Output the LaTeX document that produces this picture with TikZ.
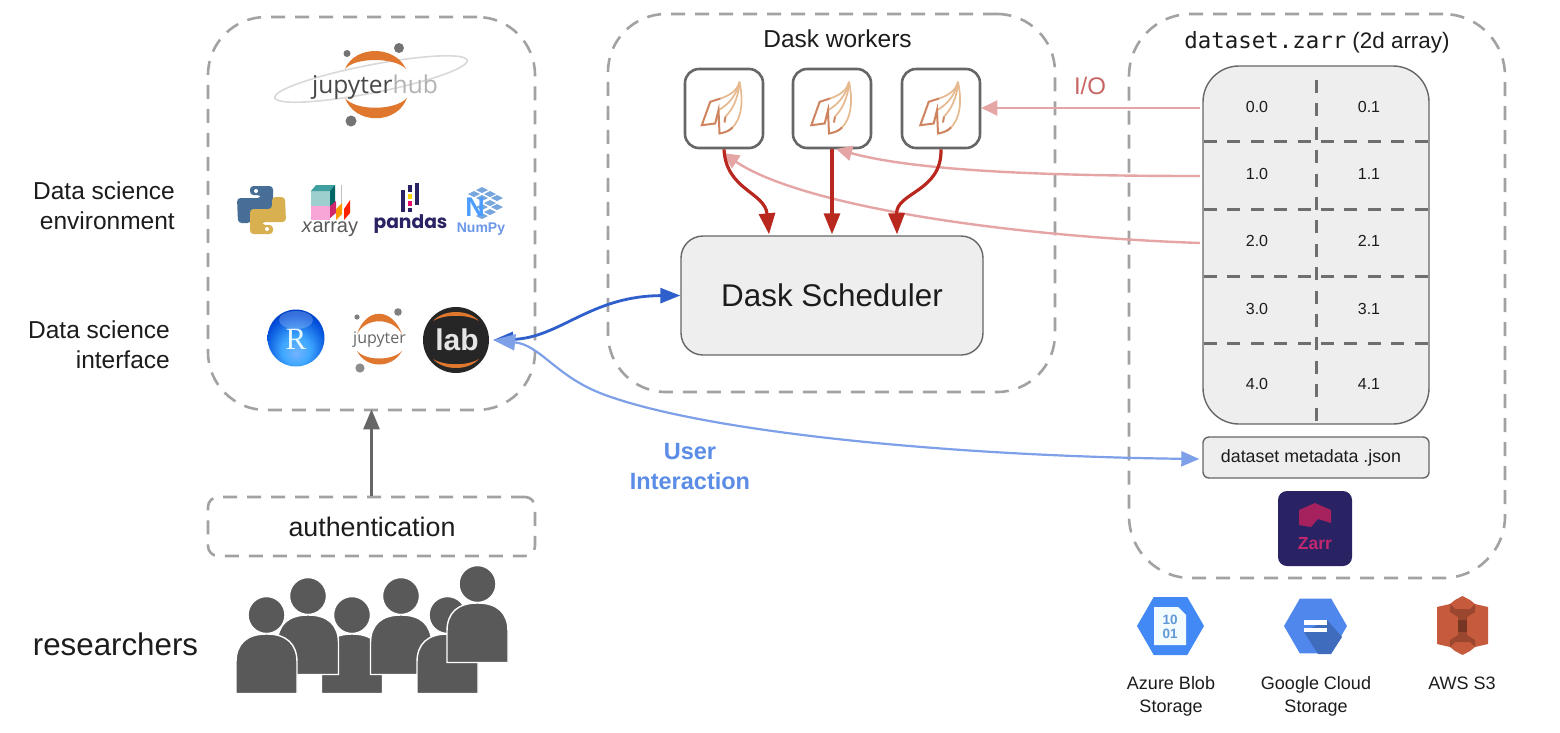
\documentclass[tikz,border=0pt]{standalone}
\usepackage{fontspec}
\setmainfont{Liberation Sans}
\setmonofont{DejaVu Sans Mono}
\newfontfamily\popfont{Poppins}
\newfontfamily\jupfont{Open Sans}
\newfontfamily\serifR{Liberation Serif}
\usetikzlibrary{arrows.meta,shapes.geometric}
\newcommand{\fsz}[1]{\fontsize{#1}{#1}\selectfont}
\definecolor{dashgrey}{HTML}{A2A2A2}
\definecolor{boxfill}{HTML}{EEEEEE}
\definecolor{boxline}{HTML}{666666}
\definecolor{griddash}{HTML}{6E6E6E}
\definecolor{pinkarrow}{HTML}{E6A5A5}
\definecolor{redarrow}{HTML}{B8281E}
\definecolor{darkblue}{HTML}{2F5FCB}
\definecolor{lightblue}{HTML}{7DA0E8}
\definecolor{userblue}{HTML}{5B8CE6}
\definecolor{iored}{HTML}{C96464}
\definecolor{peoplegrey}{HTML}{595959}
\definecolor{juporange}{HTML}{E0772E}
\definecolor{zarrnavy}{HTML}{2A2363}
\definecolor{zarrpink}{HTML}{C2286F}
\definecolor{azureblue}{HTML}{4389F5}
\definecolor{gblue}{HTML}{4F87EC}
\definecolor{awsred}{HTML}{C65A3C}
\definecolor{textdark}{HTML}{1C1C1C}
\definecolor{pyblue}{HTML}{466E96}
\definecolor{pyyellow}{HTML}{D8B050}
\definecolor{leafdark}{HTML}{CF8460}
\definecolor{leaflight}{HTML}{E6B98F}
\pgfdeclareradialshading{rball}{\pgfpoint{0bp}{-14bp}}{
  color(0bp)=(cyan!45!blue!55!white); color(12bp)=(cyan!55!blue!75!white);
  color(28bp)=(blue!65!cyan!85!black); color(36bp)=(blue!70!cyan!70!black); color(60bp)=(blue!70!cyan!60!black)}
\tikzset{
  dashbox/.style={draw=dashgrey,line width=2.6pt,dash pattern=on 14pt off 10pt,rounded corners=58pt,inner sep=0pt},
  workerbox/.style={draw=boxline,line width=2.6pt,rounded corners=14pt,minimum width=78pt,minimum height=79pt,inner sep=0pt},
  fillbox/.style={draw=boxline,fill=boxfill,line width=1.4pt,inner sep=0pt},
  celldash/.style={draw=griddash,line width=3pt,dash pattern=on 13pt off 10.4pt},
  label/.style={inner sep=0pt,text=textdark},
  cell/.style={inner sep=0pt,text=textdark,font=\fsz{16}},
  pinkline/.style={draw=pinkarrow,line width=2.4pt,-{Triangle[length=16pt,width=15pt,fill=pinkarrow]}},
  redline/.style={draw=redarrow,line width=3.2pt,-{Triangle[length=21pt,width=16pt,fill=redarrow]}},
  leafA/.style={draw=leafdark,line width=2pt,line join=miter},
  leafB/.style={draw=leaflight,line width=1.7pt},
}
\newcommand{\persona}[2]{%
  \fill[peoplegrey,draw=white,line width=1.4pt] (#1,#2) circle[radius=18.5];
  \fill[peoplegrey,draw=white,line width=1.4pt] (#1-30.5,#2+78.5) -- (#1-30.5,#2+47)
    .. controls (#1-30.5,#2+29) and (#1-20,#2+19) .. (#1,#2+19)
    .. controls (#1+20,#2+19) and (#1+30.5,#2+29) .. (#1+30.5,#2+47)
    -- (#1+30.5,#2+78.5) -- cycle;}
\newcommand{\daskleaf}[1]{%
  \begin{scope}[shift={(#1)}]
    \draw[leafB] (-3,-9) .. controls (6,-12) and (14,-17) .. (16,-25.7);
    \draw[leafB] (-5,2.7) .. controls (5,-3) and (13,-12) .. (16,-25.7);
    \draw[leafB] (2,9) .. controls (8,3) and (15,-8) .. (16,-25.7);
    \draw[leafB] (4,24) .. controls (14,18) and (22,3) .. (16,-25.7);
    \draw[leafA] (-3,-9) -- (-13.3,-5.7) -- (-21.7,17.7) -- (-8.3,16) -- (-5,2.7) -- (-4,26)
      .. controls (2,25) and (6,23) .. (9,20);
    \draw[leafA] (2,9) -- (1,15);
  \end{scope}}
\begin{document}
\begin{tikzpicture}[x=1pt,y=-1pt]
\useasboundingbox (0,0) rectangle (1560,732);
\fill[white] (0,0) rectangle (1560,732);

% containers
\node[dashbox,minimum width=327pt,minimum height=393pt] (envbox) at (371.5,213.5) {};
\node[dashbox,minimum width=447pt,minimum height=378pt] (daskbox) at (831.5,203) {};
\node[dashbox,minimum width=376pt,minimum height=564pt,rounded corners=62pt] (databox) at (1317,296) {};
\node[dashbox,minimum width=327pt,minimum height=59pt,rounded corners=10pt] (authbox) at (371.5,526.5) {};
\node[label,font=\fsz{26.8}] (authtext) at (372,527) {authentication};

% side labels
\node[label,font=\fontsize{24.5}{30}\selectfont,align=right,anchor=east] (envlabel) at (175,206) {Data science\\environment};
\node[label,font=\fontsize{24.5}{30}\selectfont,align=right,anchor=east] (ifacelabel) at (170,345) {Data science\\interface};
\node[label,font=\fsz{31.3}] (reslabel) at (115.5,644) {researchers};

% jupyterhub logo
\draw[black!15,line width=1.6pt] (371,79) circle[x radius=98,y radius=14,rotate=11];
\fill[juporange] (345,69) .. controls (355,45) and (395,45) .. (406,69) .. controls (395,57) and (355,57) .. cycle;
\fill[juporange] (345,98) .. controls (355,125) and (397,125) .. (407,98) .. controls (395,111) and (355,111) .. cycle;
\fill[black!55] (399,48) circle[radius=5];
\fill[black!55] (347,53.5) circle[radius=3.5];
\fill[black!55] (351,121) circle[radius=5.5];
\node[inner sep=0pt,font=\jupfont\fsz{24.5},anchor=base] (jhub) at (375,93) {\textcolor{black!72}{jupyter}\textcolor{black!30}{hub}};

% python logo
\newcommand{\pysnake}[1]{%
  \fill[#1,rounded corners=3.5pt] (250,186) -- (273,186) -- (273,211) -- (251,211) -- (251,223) -- (238,223) -- (237,198) -- (261,198) -- (261,195) -- (250,195) -- cycle;}
\pysnake{pyblue}
\fill[white] (256,191) circle[radius=2];
\begin{scope}[rotate around={180:(261.5,210)}]
\pysnake{pyyellow}
\fill[white] (256,191) circle[radius=2];
\end{scope}

% xarray logo
\fill[teal!38!white] (311,191) rectangle (330,206);
\fill[teal!75!white] (311,191) -- (316,185) -- (335,185) -- (330,191) -- cycle;
\fill[teal!80!black] (330,191) -- (335,185) -- (335,212) -- (330,218) -- cycle;
\fill[magenta!35!white] (311,206) rectangle (330,220);
\draw[black!25,line width=.8pt] (341,185) -- (341,205);
\fill[magenta!70!red!85!black] (330,218) -- (330,206) -- (336,201) -- (336,213) -- cycle;
\fill[orange!80!yellow] (336,220) -- (336,209) -- (342,203) -- (342,214) -- cycle;
\fill[red!75!orange] (344,220) -- (344,209) -- (350,200) -- (350,213) -- cycle;
\node[inner sep=0pt,font=\fsz{20},text=black!65] (xarr) at (330,229) {\textit{x}array};

% pandas logo
\fill[zarrnavy] (400.5,190) rectangle (405,212);
\fill[zarrnavy] (414.5,183) rectangle (419,205);
\fill[zarrnavy] (407.5,185) rectangle (412,192);
\fill[yellow!70!orange] (407.5,194) rectangle (412,199);
\fill[magenta!70!red] (407.5,201) rectangle (412,206);
\fill[zarrnavy] (407.5,207.5) rectangle (412,212);
\node[inner sep=0pt,font=\popfont\bfseries\fsz{18.7},text=zarrnavy] (pandas) at (410.5,224) {pandas};

% numpy logo
\foreach \cx/\cy in {482/190,474/194,490/194,482/198,490/203,482/207,490/212,482/216,497/198,497/207}{
  \fill[cyan!55!blue!55!white] (\cx,\cy-3) -- (\cx+6,\cy) -- (\cx,\cy+3) -- (\cx-6,\cy) -- cycle;}
\node[inner sep=0pt,font=\bfseries\fsz{27},text=blue!55!cyan!70!white] (numpyn) at (475,207) {N};
\node[inner sep=0pt,font=\bfseries\fsz{14},text=userblue!90!white] (numpy) at (481,229) {NumPy};

% R logo
\node[circle,shading=rball,minimum size=57pt,inner sep=0pt] (rlogo) at (296,338) {};
\fill[white,opacity=.22] (296,320) circle[x radius=17,y radius=9];
\node[inner sep=0pt,text=white!90!cyan,font=\serifR\fsz{31}] (rtext) at (296,339) {R};

% jupyter logo
\fill[juporange] (357,334) .. controls (366,307) and (392,307) .. (402,334) .. controls (392,317) and (366,317) .. cycle;
\fill[juporange] (357,351) .. controls (366,369) and (392,369) .. (402,351) .. controls (392,361) and (366,361) .. cycle;
\fill[black!50] (398,312) circle[radius=3.8];
\fill[black!50] (357,317) circle[radius=2.6];
\fill[black!45] (360,368) circle[radius=4.6];
\node[inner sep=0pt,font=\jupfont\fsz{16},text=black!60] (jup) at (379.5,340) {jupyter};

% lab logo
\node[circle,fill=black!85,minimum size=66pt,inner sep=0pt] (lab) at (456,340) {};
\fill[juporange] (433,321) .. controls (444,309) and (468,309) .. (479,321) .. controls (468,314) and (444,314) .. cycle;
\fill[juporange] (433,359) .. controls (444,371) and (468,371) .. (479,359) .. controls (468,366) and (444,366) .. cycle;
\node[inner sep=0pt,font=\bfseries\fsz{30},text=white!90!black] (labtext) at (457,340) {lab};

% people
\persona{352}{615}
\persona{308}{596}
\persona{401}{596}
\persona{266.5}{615}
\persona{447.5}{615}
\persona{477.5}{584}

% dask workers
\node[label,font=\fsz{24.5}] (dasktitle) at (837.5,39) {Dask workers};
\node[workerbox] (w1) at (724,108.5) {};
\node[workerbox] (w2) at (832,108.5) {};
\node[workerbox] (w3) at (941,108.5) {};
\daskleaf{723.5,107.5}
\daskleaf{833,107.5}
\daskleaf{942,107.5}
\node[fillbox,rounded corners=22pt,minimum width=302pt,minimum height=119pt,font=\fsz{31.4},text=textdark] (sched) at (832,295.5) {Dask Scheduler};

% zarr array
\node[inner sep=0pt,text=textdark] (zarrtitle) at (1317,42) {\ttfamily\fsz{22.4}dataset.zarr\normalfont\fsz{22.4}\ (2d array)};
\node[fillbox,rounded corners=36pt,minimum width=226pt,minimum height=358pt] (grid) at (1316,245) {};
\foreach \yy in {141,209,276,343}{\draw[celldash] (1204,\yy) -- (1428,\yy);}
\draw[celldash] (1316,80) -- (1316,423);
\foreach \nm/\yy/\lab/\labb in {r0/107/0.0/0.1,r1/174/1.0/1.1,r2/241/2.0/2.1,r3/309/3.0/3.1,r4/384/4.0/4.1}{
  \node[cell] (\nm a) at (1257,\yy) {\lab};
  \node[cell] (\nm b) at (1369,\yy) {\labb};
}
\node[fillbox,rounded corners=6pt,minimum width=226pt,minimum height=41pt] (meta) at (1316,457.5) {};
\node[cell,font=\fsz{17.8}] (metatext) at (1311,458) {dataset metadata .json};

% zarr logo
\node[fill=zarrnavy,rounded corners=9pt,minimum width=74pt,minimum height=75pt,inner sep=0pt] (zarrlogo) at (1315,528.5) {};
\fill[zarrpink!85!black] (1299,510) -- (1315,503) -- (1331,510) -- (1331,523) -- (1318,519) -- (1311,527) -- (1299,525) -- cycle;
\node[inner sep=0pt,font=\bfseries\fsz{17.5},text=zarrpink] (zarrword) at (1315,544) {Zarr};

% storage icons
\node[regular polygon,regular polygon sides=6,fill=azureblue,minimum size=67pt,inner sep=0pt] (azure) at (1170.5,626) {};
\fill[white!95!cyan] (1154,607) -- (1178,607) -- (1186,615) -- (1186,645) -- (1154,645) -- cycle;
\node[inner sep=0pt,font=\bfseries\fontsize{13.5}{14}\selectfont,text=cyan!55!blue!65!white,align=center] (azbits) at (1170,627) {10\\01};
\node[regular polygon,regular polygon sides=6,fill=gblue,minimum size=63pt,inner sep=0pt] (gcloud) at (1315.5,626) {};
\fill[gblue!80!black] (1327,620) -- (1342,637) -- (1331,654) -- (1318,654) -- (1304,632) -- cycle;
\fill[white] (1304,620) rectangle (1327,624.5);
\fill[white] (1304,627.5) rectangle (1327,632);
\fill[awsred] (1437,607) -- (1450,604) -- (1455,600) -- (1462.5,596) -- (1470,600) -- (1475,604) -- (1488,607) -- (1488,644) -- (1475,647) -- (1470,651) -- (1462.5,655) -- (1455,651) -- (1450,647) -- (1437,644) -- cycle;
\fill[awsred!78!black] (1450,604) -- (1455,609) -- (1470,609) -- (1475,604) -- (1475,612) -- (1467,617) -- (1467,635) -- (1475,640) -- (1475,647) -- (1470,642) -- (1455,642) -- (1450,647) -- (1450,640) -- (1458,635) -- (1458,617) -- (1450,612) -- cycle;
\fill[awsred!60!black] (1458,620) rectangle (1467,632);
\node[cell,font=\fontsize{18}{23}\selectfont,align=center] (aztext) at (1171,696.5) {Azure Blob\\Storage};
\node[cell,font=\fontsize{18}{23}\selectfont,align=center] (gctext) at (1316,696.5) {Google Cloud\\Storage};
\node[cell,font=\fsz{18}] (awstext) at (1462,683) {AWS S3};

% labels on connectors
\node[inner sep=0pt,font=\fsz{24},text=iored] (iolabel) at (1090,86) {I/O};
\node[inner sep=0pt,font=\bfseries\fontsize{23.5}{30}\selectfont,text=userblue,align=center] (userlabel) at (690,467) {User\\Interaction};

% connectors
\coordinate (labtip) at ([xshift=4pt]lab.east);
\coordinate (metaend) at ([xshift=-3pt,yshift=-1.5pt]meta.west);
\coordinate (c1) at (1200,176);
\coordinate (c2) at (1200,243);
\coordinate (w1in) at (723,153);
\coordinate (w2in) at (836,149);
\coordinate (s1) at ([xshift=-63pt,yshift=1pt]sched.north);
\coordinate (s3) at ([xshift=65pt,yshift=1pt]sched.north);
\coordinate (bend) at (600,393);
\draw[pinkline] (1200,108) -- (w3.east |- 0,108);
\draw[pinkline] (c1) .. controls (1060,176) and (920,172) .. (w2in);
\draw[pinkline] (c2) .. controls (1000,236) and (800,205) .. (w1in);
\draw[redline] (w1.south) .. controls (726,190) and (765,192) .. (s1);
\draw[redline] (w2.south) -- ([yshift=1pt]sched.north);
\draw[redline] (w3.south) .. controls (942,192) and (896,192) .. (s3);
\draw[draw=boxline,line width=2.6pt,-{Triangle[length=20pt,width=16pt,fill=boxline]}] (authbox.north) -- ([yshift=2pt]envbox.south);
\draw[draw=darkblue,line width=2.8pt,{Triangle[length=20pt,width=15pt,fill=darkblue]}-{Triangle[length=20pt,width=15pt,fill=darkblue]}] (labtip) .. controls (560,338) and (590,296) .. (sched.west);
\draw[draw=lightblue,line width=2.2pt,{Triangle[length=22pt,width=16pt,fill=lightblue]}-{Triangle[length=18pt,width=15pt,fill=lightblue]}] (labtip) .. controls (540,345) and (555,375) .. (bend) .. controls (700,432) and (950,456) .. (metaend);
\end{tikzpicture}
\end{document}
